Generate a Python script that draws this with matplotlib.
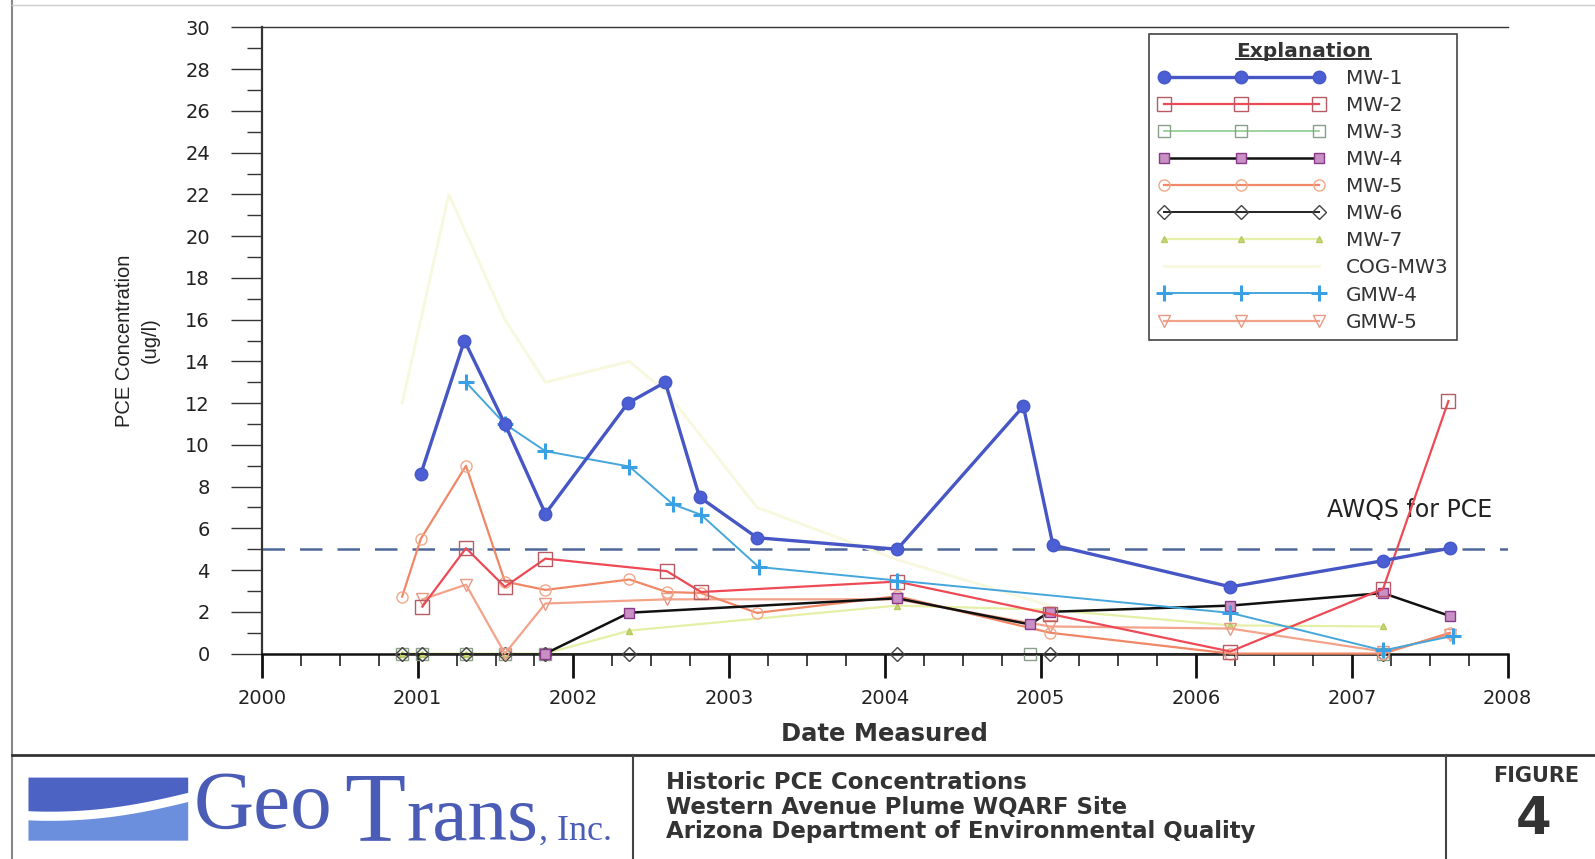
import numpy as np
import matplotlib
matplotlib.use("Agg")
import matplotlib.pyplot as plt
from matplotlib import font_manager
from matplotlib.lines import Line2D
from matplotlib.patches import Polygon
from matplotlib.ticker import MultipleLocator

# ---------------- data (decimal years, ug/l) ----------------
mw1_dates = [2001.02, 2001.30, 2001.56, 2001.82, 2002.35, 2002.59, 2002.81, 2003.18, 2004.08, 2004.89, 2005.08, 2006.22, 2007.20, 2007.63]
mw1_vals = [8.6, 15.0, 11.0, 6.7, 12.0, 13.0, 7.5, 5.55, 5.0, 11.85, 5.2, 3.2, 4.45, 5.05]

mw2_dates = [2001.03, 2001.31, 2001.56, 2001.82, 2002.60, 2002.82, 2004.08, 2005.06, 2006.22, 2007.20, 2007.62]
mw2_vals = [2.25, 5.05, 3.2, 4.55, 3.95, 2.95, 3.45, 1.9, 0.1, 3.1, 12.1]

mw3_dates = [2000.90, 2001.03, 2001.31, 2001.56, 2001.82, 2004.93, 2007.20]
mw3_vals = [0.0, 0.0, 0.0, 0.0, 0.0, 0.0, 0.0]

mw4_dates = [2001.82, 2002.36, 2004.08, 2004.93, 2005.06, 2006.22, 2007.20, 2007.63]
mw4_vals = [0.0, 1.96, 2.65, 1.4, 2.0, 2.3, 2.9, 1.8]

mw5_dates = [2000.90, 2001.02, 2001.31, 2001.56, 2001.82, 2002.36, 2002.60, 2002.82, 2003.18, 2004.08, 2005.06, 2006.22, 2007.20, 2007.63]
mw5_vals = [2.73, 5.5, 9.0, 3.45, 3.05, 3.55, 2.95, 2.9, 1.95, 2.75, 1.0, 0.0, 0.0, 1.0]

mw6_dates = [2000.90, 2001.03, 2001.31, 2001.56, 2001.82, 2002.36, 2004.08, 2005.06, 2007.20]
mw6_vals = [0.0, 0.0, 0.0, 0.0, 0.0, 0.0, 0.0, 0.0, 0.0]

mw7_dates = [2000.90, 2001.03, 2001.31, 2001.56, 2001.82, 2002.36, 2004.08, 2005.06, 2006.22, 2007.20]
mw7_vals = [0.0, 0.0, 0.0, 0.0, 0.0, 1.1, 2.3, 2.1, 1.35, 1.3]

cog_dates = [2000.90, 2001.20, 2001.56, 2001.82, 2002.36, 2002.60, 2003.18, 2004.08, 2005.06]
cog_vals = [12.0, 22.0, 16.0, 13.0, 14.0, 12.5, 7.0, 4.5, 2.3]

gmw4_dates = [2001.31, 2001.56, 2001.82, 2002.36, 2002.64, 2002.82, 2003.19, 2004.08, 2006.22, 2007.20, 2007.65]
gmw4_vals = [13.0, 11.0, 9.7, 8.96, 7.15, 6.65, 4.15, 3.5, 1.95, 0.15, 0.85]

gmw5_dates = [2001.03, 2001.31, 2001.56, 2001.82, 2002.60, 2004.08, 2005.06, 2006.22, 2007.20, 2007.63]
gmw5_vals = [2.6, 3.3, 0.0, 2.4, 2.6, 2.6, 1.3, 1.2, 0.1, 0.9]

awqs_level = 5.0
year_ticks = list(range(2000, 2009))
y_ticks = list(range(0, 31, 2))

# ---------------- fonts ----------------
names = {f.name for f in font_manager.fontManager.ttflist}
SANS = "DejaVu Sans"
ARIAL = "Liberation Sans" if "Liberation Sans" in names else "DejaVu Sans"
NARROW = "Liberation Sans Narrow" if "Liberation Sans Narrow" in names else ARIAL
SERIF = "Liberation Serif" if "Liberation Serif" in names else "DejaVu Serif"
plt.rcParams["font.family"] = [SANS]

W, H = 1595, 859
SX, SY = 1595 / 1568, 859 / 844


def P(xs, ys):
    """shrunk-reference pixel -> figure fraction"""
    return xs * SX / W, 1 - ys * SY / H


fig = plt.figure(figsize=(W / 100, H / 100), dpi=100)
fig.patch.set_facecolor("white")

left, right = 262 / W, 1507.6 / W
top, bottom = 1 - 27.4 / H, 1 - 653.6 / H
ax = fig.add_axes([left, bottom, right - left, top - bottom])
ax.set_xlim(2000, 2008)
ax.set_ylim(0, 30)

common = dict(clip_on=False)
ax.plot(cog_dates, cog_vals, color="#f8f8de", lw=2.0, label="COG-MW3", zorder=2, **common)
ax.plot(mw7_dates, mw7_vals, color="#e6efa6", lw=1.6, marker="^", ms=5, mfc="#c8d878", mec="#b8c860",
        label="MW-7", zorder=3, **common)
ax.plot(mw3_dates, mw3_vals, color="#8ccc8c", lw=1.2, marker="s", ms=9, mfc="none", mec="#8a9f8a",
        label="MW-3", zorder=3, **common)
ax.plot(mw6_dates, mw6_vals, color="#222222", lw=1.4, marker="D", ms=7, mfc="none", mec="#444444",
        label="MW-6", zorder=3, **common)
ax.plot(gmw5_dates, gmw5_vals, color="#f3a38a", lw=1.6, marker="v", ms=8, mfc="none", mec="#e79a86",
        label="GMW-5", zorder=4, **common)
ax.plot(mw5_dates, mw5_vals, color="#f08868", lw=1.6, marker="o", ms=8, mfc="none", mec="#f0a888",
        label="MW-5", zorder=4, **common)
ax.plot(mw4_dates, mw4_vals, color="#111111", lw=1.8, marker="s", ms=7, mfc="#c890c4", mec="#8a3a8a",
        label="MW-4", zorder=5, **common)
ax.plot(mw2_dates, mw2_vals, color="#ee4a55", lw=1.6, marker="s", ms=10, mfc="none", mec="#b85a62",
        label="MW-2", zorder=5, **common)
ax.plot(gmw4_dates, gmw4_vals, color="#45a6dc", lw=1.4, marker="+", ms=12, mew=2.2, mec="#3aa0e4",
        label="GMW-4", zorder=6, **common)
ax.plot(mw1_dates, mw1_vals, color="#4656c4", lw=2.4, marker="o", ms=9, mfc="#4b5ed4", mec="#4658c8",
        label="MW-1", zorder=7, **common)

ax.axhline(awqs_level, color="#50679a", lw=1.8, ls=(0, (9, 6)), zorder=1)
ax.text(2007.9, 6.9, "AWQS for PCE", ha="right", va="center", fontsize=17, color="#222222")

ax.spines["right"].set_visible(False)
ax.spines["top"].set_color("#333333")
ax.spines["top"].set_linewidth(1.0)
ax.spines["left"].set_color("#333333")
ax.spines["left"].set_linewidth(1.6)
ax.spines["bottom"].set_color("#111111")
ax.spines["bottom"].set_linewidth(1.8)

ax.set_xticks(year_ticks)
ax.set_xticklabels([str(y) for y in year_ticks])
ax.xaxis.set_minor_locator(MultipleLocator(0.25))
ax.set_yticks(y_ticks)
ax.set_yticklabels([str(v) for v in y_ticks])
ax.yaxis.set_minor_locator(MultipleLocator(1))

ax.tick_params(axis="x", which="major", direction="out", length=17, width=2.0, color="#111111",
               labelsize=14, pad=8.5, labelcolor="#222222")
ax.tick_params(axis="x", which="minor", direction="out", length=8.5, width=1.2, color="#222222")
ax.tick_params(axis="y", which="major", direction="out", length=22, width=1.0, color="#333333",
               labelsize=14, pad=15.5, labelcolor="#222222")
ax.tick_params(axis="y", which="minor", direction="out", length=11, width=1.0, color="#333333")

ax.set_xlabel("Date Measured", fontsize=17.5, fontweight="bold", color="#333333", labelpad=10)
ax.set_ylabel("PCE Concentration\n(ug/l)", fontsize=14.5, family=[NARROW, ARIAL], color="#222222",
              labelpad=18, linespacing=1.5)

# legend
order = ["MW-1", "MW-2", "MW-3", "MW-4", "MW-5", "MW-6", "MW-7", "COG-MW3", "GMW-4", "GMW-5"]
handles, labels = ax.get_legend_handles_labels()
hmap = dict(zip(labels, handles))
lx, ly = P(1130, 33)
leg = ax.legend([hmap[k] for k in order], order, loc="upper left", bbox_to_anchor=(lx, ly),
                bbox_transform=fig.transFigure, borderaxespad=0, numpoints=3, handlelength=8.3,
                handletextpad=1.05, labelspacing=0.4, fontsize=14.5, frameon=True, fancybox=False,
                title="Explanation", title_fontproperties={"weight": "bold", "size": 14.5},
                borderpad=0.42, framealpha=1)
leg.get_frame().set_edgecolor("#444444")
leg.get_frame().set_linewidth(1.2)
for t in leg.get_texts():
    t.set_color("#333333")
leg.get_title().set_color("#333333")
leg.set_zorder(10)

# ---------------- page frame & title block ----------------
def fline(xs, ys, **kw):
    pts = [P(x, y) for x, y in zip(xs, ys)]
    fig.add_artist(Line2D([p[0] for p in pts], [p[1] for p in pts], transform=fig.transFigure, **kw))

fline([12, 12], [0, 844], color="#888888", lw=1.5)
fline([12, 1568], [5, 5], color="#cccccc", lw=1.0)
fline([12, 1568], [742, 742], color="#333333", lw=2.0)
fline([622, 622], [742, 844], color="#444444", lw=1.5)
fline([1422, 1422], [742, 844], color="#444444", lw=1.5)

# logo graphic (blue bands with white wave)
xs = np.linspace(28, 185, 60)
tt = (xs - 28) / (185 - 28)
wave_top = 797 - 18 * tt ** 1.6 + 3 * np.sin(np.pi * tt)
wave_bot = wave_top + 9
top_poly = [P(28, 764), P(185, 764)] + [P(x, y) for x, y in zip(xs[::-1], wave_top[::-1])]
bot_poly = [P(x, y) for x, y in zip(xs, wave_bot)] + [P(185, 826), P(28, 826)]
fig.add_artist(Polygon(top_poly, closed=True, transform=fig.transFigure, facecolor="#4d63c4",
                       edgecolor="none"))
fig.add_artist(Polygon(bot_poly, closed=True, transform=fig.transFigure, facecolor="#6b8fdc",
                       edgecolor="none"))

renderer = fig.canvas.get_renderer()
logo_col = "#4a5cb6"
pieces = [("Geo", 190, 813, 60), ("T", 338, 825, 72), ("rans", 386, 825, 57), (", Inc.", 527, 825, 26)]
prev_right = None
for s, xs0, ys0, fs in pieces:
    x0, y0 = P(xs0, ys0)
    if prev_right is not None:
        x0 = max(x0, prev_right + 1.0 / W)
    tx = fig.text(x0, y0, s, fontsize=fs, family=SERIF, color=logo_col, ha="left", va="baseline")
    bb = tx.get_window_extent(renderer)
    prev_right = bb.x1 / W

for i, line in enumerate(["Historic PCE Concentrations",
                          "Western Avenue Plume WQARF Site",
                          "Arizona Department of Environmental Quality"]):
    x0, y0 = P(655, 769 + 24 * i)
    fig.text(x0, y0, line, fontsize=16.5, fontweight="bold", color="#333333", ha="left", va="center")

fx, fy = P(1510, 762)
fig.text(fx, fy, "FIGURE", fontsize=15, fontweight="bold", color="#333333", ha="center", va="center")
nx, ny = P(1508, 806)
fig.text(nx, ny, "4", fontsize=37, fontweight="bold", color="#333333", ha="center", va="center")

# underline legend title
fig.canvas.draw()
bb = leg.get_title().get_window_extent(fig.canvas.get_renderer())
inv = fig.transFigure.inverted()
(x0, y0), (x1, y1) = inv.transform([(bb.x0, bb.y0), (bb.x1, bb.y0)])
fig.add_artist(Line2D([x0, x1], [y0 + 0.002, y0 + 0.002], transform=fig.transFigure, color="#333333", lw=1.4))

fig.savefig("out.png", dpi=100, facecolor="white")
